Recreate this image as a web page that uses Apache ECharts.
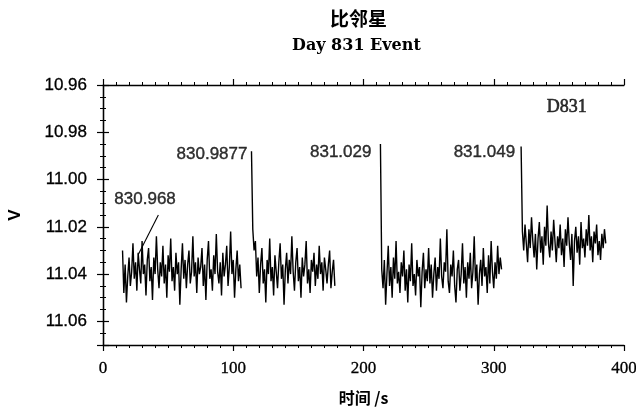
<!DOCTYPE html>
<html>
<head>
<meta charset="utf-8">
<script src="https://cdn.jsdelivr.net/npm/echarts@6/dist/echarts.min.js"></script>
<style>html,body{margin:0;padding:0;background:#fff;}#c{width:636px;height:409px;}</style>
</head>
<body>
<div id="c"></div>
<script>
// ---- data ----
var titleText = '比邻星';
var subtitleText = 'Day 831 Event';
var xName = '时间 /s';
var yName = 'V';
var xTicks = [0, 100, 200, 300, 400];
var yTicks = [10.96, 10.98, 11.00, 11.02, 11.04, 11.06];
var stepSec = 1;

var seg1Start = 15;
var seg1 = [
11.030,11.048,11.036,11.052,11.041,11.033,11.045,11.039,11.027,11.042,
11.035,11.047,11.031,11.038,11.044,11.026,11.040,11.036,11.049,11.034,
11.029,11.043,11.037,11.051,11.033,11.040,11.024,11.038,11.046,11.035,
11.041,11.028,11.044,11.036,11.050,11.032,11.039,11.025,11.043,11.037,
11.047,11.031,11.040,11.035,11.053,11.038,11.027,11.042,11.034,11.046,
11.036,11.030,11.044,11.039,11.024,11.041,11.035,11.048,11.033,11.040,
11.037,11.029,11.045,11.036,11.051,11.034,11.026,11.042,11.038,11.047,
11.032,11.040,11.023,11.039,11.044,11.035,11.049,11.031,11.041,11.036,
11.028,11.045,11.037,11.022,11.040,11.034,11.050,11.038,11.030,11.043,
11.036,11.046];

var seg2Start = 114;
var seg2 = [
10.988,11.021,11.030,11.026,11.041,11.033,11.048,11.036,11.029,11.044,
11.038,11.052,11.034,11.040,11.025,11.043,11.037,11.049,11.032,11.039,
11.046,11.035,11.027,11.042,11.036,11.053,11.038,11.031,11.044,11.034,
11.040,11.024,11.039,11.047,11.035,11.029,11.043,11.037,11.050,11.033,
11.041,11.036,11.026,11.044,11.038,11.048,11.034,11.039,11.031,11.045,
11.036,11.042,11.028,11.040,11.035,11.047,11.033,11.038,11.044,11.036,
11.030,11.046,11.039,11.034,11.045];

var seg3Start = 213;
var seg3 = [
10.985,11.038,11.046,11.034,11.053,11.040,11.028,11.045,11.037,11.050,
11.033,11.042,11.026,11.044,11.039,11.048,11.035,11.041,11.030,11.047,
11.038,11.052,11.036,11.043,11.027,11.045,11.040,11.049,11.034,11.041,
11.037,11.054,11.039,11.031,11.046,11.038,11.043,11.029,11.044,11.036,
11.050,11.040,11.033,11.047,11.037,11.042,11.025,11.041,11.046,11.035,
11.039,11.021,11.043,11.048,11.036,11.041,11.030,11.045,11.052,11.038,
11.034,11.047,11.040,11.027,11.044,11.037,11.050,11.035,11.042,11.031,
11.046,11.039,11.024,11.043,11.036,11.053,11.040,11.034,11.045,11.029,
11.041,11.037,11.048,11.032,11.044,11.026,11.039,11.046,11.035,11.042,
11.028,11.040,11.033,11.038];

var seg4Start = 321;
var seg4 = [
10.986,11.022,11.030,11.019,11.027,11.035,11.021,11.029,11.016,11.026,
11.033,11.023,11.038,11.025,11.018,11.031,11.024,11.036,11.020,11.028,
11.011,11.027,11.033,11.022,11.030,11.017,11.026,11.035,11.024,11.029,
11.019,11.032,11.025,11.037,11.021,11.028,11.016,11.027,11.034,11.023,
11.045,11.026,11.020,11.031,11.024,11.036,11.018,11.029,11.025,11.033,
11.021,11.028,11.015,11.030,11.024,11.035,11.022,11.027,11.019,11.032,
11.026,11.034,11.023,11.029,11.021,11.027];

var eventLabels = ['830.968', '830.9877', '831.029', '831.049'];
var panelLabel = 'D831';

// ---- build ----
function toPairs(start, vals) {
  var out = [];
  for (var i = 0; i < vals.length; i++) out.push([start + i * stepSec, vals[i]]);
  return out;
}
var segments = [toPairs(seg1Start, seg1), toPairs(seg2Start, seg2), toPairs(seg3Start, seg3), toPairs(seg4Start, seg4)];

var SANS = '"Liberation Sans", Arial, sans-serif';
var SERIF = '"Liberation Serif", "DejaVu Serif", serif';
var CJK = '"Noto Sans CJK SC", sans-serif';

var axisLine = { show: true, lineStyle: { color: '#000', width: 1.3 } };
var axisTick = { show: true, inside: false, length: 6, lineStyle: { color: '#000', width: 1.2 } };

function xAxisDef(pos, showLabel) {
  return {
    type: 'value', position: pos, min: 0, max: 400, interval: 100,
    axisLine: axisLine, axisTick: axisTick, splitLine: { show: false },
    minorTick: { show: true, splitNumber: 10, length: 3, lineStyle: { color: '#000', width: 1 } },
    axisLabel: { show: showLabel, fontFamily: SERIF, fontSize: 17, color: '#000', margin: 15,
      textBorderColor: '#000', textBorderWidth: 0.3 },
    name: showLabel ? xName : '', nameLocation: 'middle', nameGap: 45,
    nameTextStyle: { fontFamily: CJK, fontSize: 16, fontWeight: 'bold', color: '#000' }
  };
}
function yAxisDef(pos, showLabel) {
  return {
    type: 'value', position: pos, inverse: true, min: 10.96, max: 11.07, interval: 0.02,
    axisLine: axisLine, axisTick: axisTick, splitLine: { show: false },
    minorTick: { show: true, splitNumber: 4, length: 3, lineStyle: { color: '#000', width: 1 } },
    axisLabel: { show: showLabel, showMaxLabel: false, fontFamily: SANS, fontSize: 17, color: '#000', margin: 16,
      textBorderColor: '#000', textBorderWidth: 0.3,
      formatter: function (v) { return v.toFixed(2); } },
    name: showLabel ? yName : '', nameLocation: 'middle', nameGap: 79, nameRotate: 90,
    nameTextStyle: { fontFamily: SANS, fontSize: 17, fontWeight: 'bold', color: '#000' }
  };
}

var series = segments.map(function (d) {
  return {
    type: 'line', data: d, xAxisIndex: 0, yAxisIndex: 0, showSymbol: false, symbol: 'none',
    lineStyle: { color: '#000', width: 1.4 }, animation: false, silent: true
  };
});

var lbl = function (extra) {
  return Object.assign({ show: true, fontFamily: SANS, fontSize: 17, color: '#000',
    textBorderColor: '#000', textBorderWidth: 0.4 }, extra);
};
series.push({
  type: 'scatter', xAxisIndex: 0, yAxisIndex: 0, symbolSize: 0, animation: false, silent: true,
  label: lbl({ formatter: function (p) { return p.data.name; } }),
  data: [
    { name: eventLabels[0], value: [32.3, 11.0082], label: lbl({ position: 'inside' }) },
    { name: eventLabels[1], value: [114, 10.9892], label: lbl({ position: 'left', distance: 4 }) },
    { name: eventLabels[2], value: [213, 10.9883], label: lbl({ position: 'left', distance: 9 }) },
    { name: eventLabels[3], value: [321, 10.9883], label: lbl({ position: 'left', distance: 6 }) },
    { name: panelLabel, value: [356, 10.9695], label: lbl({ position: 'inside', fontFamily: SERIF, fontSize: 18, textBorderWidth: 0.6 }) }
  ]
});
series.push({
  type: 'line', xAxisIndex: 0, yAxisIndex: 0, symbol: 'none', animation: false, silent: true,
  lineStyle: { color: '#000', width: 1.1 },
  data: [[42.5, 11.0150], [27, 11.0318]]
});

var chart = echarts.init(document.getElementById('c'), null, { renderer: 'canvas' });
chart.setOption({
  backgroundColor: '#fff',
  animation: false,
  grid: { left: 103, right: 12, top: 85, bottom: 64, containLabel: false, outerBoundsMode: 'none' },
  xAxis: [xAxisDef('bottom', true), xAxisDef('top', false)],
  yAxis: [yAxisDef('left', true), yAxisDef('right', false)],
  graphic: [
    { type: 'text', left: 330, top: 9, style: { text: titleText, font: 'bold 19px ' + CJK, fill: '#000' } },
    { type: 'text', left: 292, top: 38, style: { text: subtitleText, font: 'bold 16px "DejaVu Serif", serif', fill: '#000' } }
  ],
  series: series
});
</script>
</body>
</html>
